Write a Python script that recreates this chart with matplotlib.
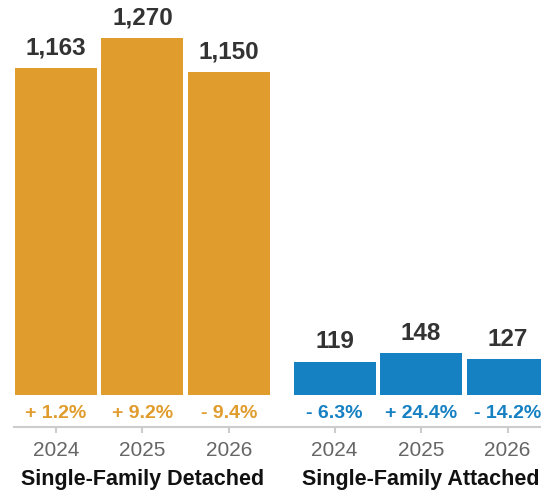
import matplotlib
matplotlib.use("Agg")
import matplotlib.pyplot as plt
import matplotlib.transforms as mtransforms

plt.rcParams['font.family'] = ['Liberation Sans', 'DejaVu Sans']

years = ['2024', '2025', '2026']
groups = ['Single-Family Detached', 'Single-Family Attached']
detached = [1163, 1270, 1150]
attached = [119, 148, 127]
detached_chg = ['+ 1.2%', '+ 9.2%', '- 9.4%']
attached_chg = ['- 6.3%', '+ 24.4%', '- 14.2%']

ORANGE = '#E09D2E'
BLUE = '#1580C2'

W, H = 541, 493
fig = plt.figure(figsize=(W / 100, H / 100), dpi=100)
base_px = 395
ax = fig.add_axes([0, (H - base_px) / H, 1, base_px / H])

x1 = [0, 1, 2]
x2 = [3.22, 4.22, 5.22]
width = 0.948

ax.bar(x1, detached, width=width, color=ORANGE)
ax.bar(x2, attached, width=width, color=BLUE)

ax.set_xlim(-0.647, 5.607)
ax.set_ylim(0, 1405)

for spine in ['top', 'left', 'right']:
    ax.spines[spine].set_visible(False)
ax.spines['bottom'].set_position(('outward', 32 * 0.72))
ax.spines['bottom'].set_color('#cccccc')
ax.spines['bottom'].set_linewidth(1.5)
ax.spines['bottom'].set_bounds(-0.485, 5.607)
ax.set_yticks([])
ax.set_xticks(x1 + x2)
ax.set_xticklabels(years + years, fontsize=15, color='#666666')
ax.tick_params(axis='x', length=4.5, width=1.5, color='#cccccc', pad=5.5)

def label_bars(xs, vals, chg, color):
    for x, v, c in zip(xs, vals, chg):
        ax.annotate(f'{v:,}', (x, v), xytext=(0, 14.5), textcoords='offset points',
                    ha='center', va='center', fontsize=17.5, fontweight='bold',
                    color='#333333')
        ax.annotate(c, (x, 0), xytext=(0, -13.5), textcoords='offset points',
                    ha='center', va='center', fontsize=14, fontweight='bold',
                    color=color)

label_bars(x1, detached, detached_chg, ORANGE)
label_bars(x2, attached, attached_chg, BLUE)

trans = mtransforms.blended_transform_factory(ax.transData, fig.transFigure)
for x, g in zip([x1[1], x2[1]], groups):
    ax.text(x, 1 - 480 / H, g, transform=trans, ha='center', va='center',
            fontsize=15.5, fontweight='bold', color='#111111')

fig.savefig('out.png', dpi=100)
